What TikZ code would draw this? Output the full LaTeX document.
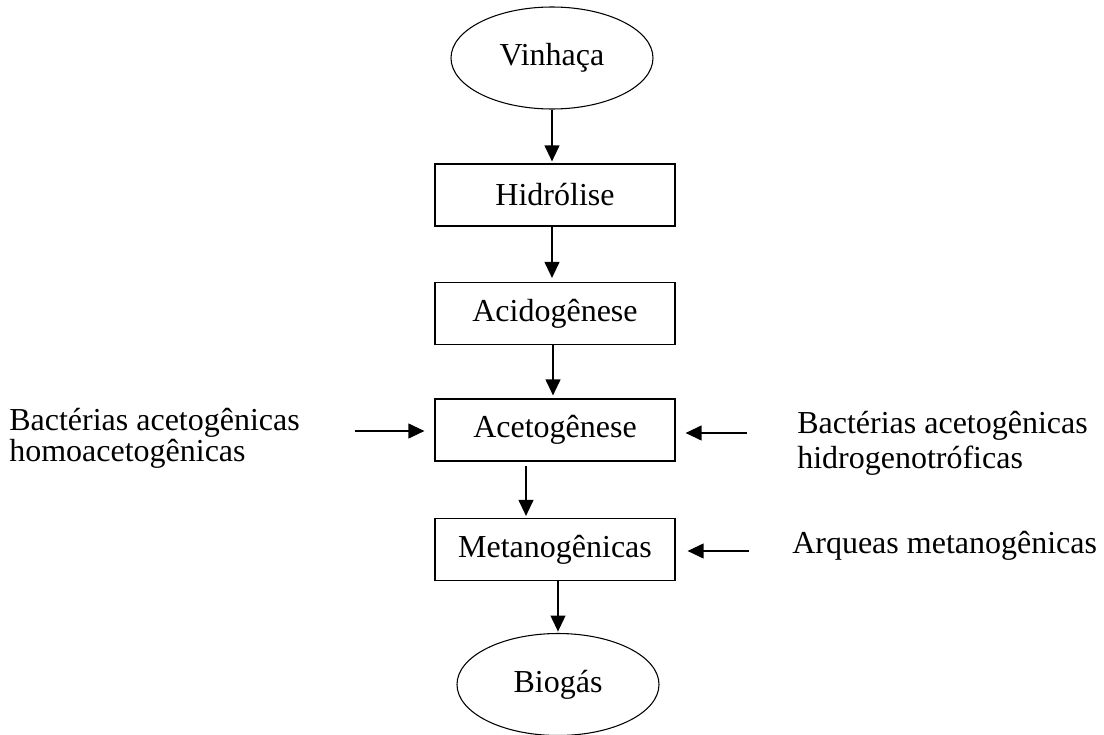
\documentclass[tikz,border=0pt]{standalone}
\usepackage{fontspec}
\setmainfont{Liberation Serif}
\usetikzlibrary{shapes.geometric,arrows.meta}
\begin{document}
\begin{tikzpicture}[x=0.75pt,y=-0.75pt,
  every node/.style={font=\fontsize{24}{21}\selectfont, inner sep=0pt},
  stage/.style={draw, line width=0.8pt, minimum width=180pt, minimum height=46.5pt},
  term/.style={ellipse, draw, line width=0.8pt, minimum width=151.5pt, minimum height=76.5pt},
  arr/.style={line width=1.5pt, -{Triangle[length=12pt,width=11pt]}},
  lbl/.style={align=left, anchor=base west}]
\useasboundingbox (0,0) rectangle (1104,735);
\node[term] (vin) at (552,58) {Vinhaça};
\node[stage] (hid) at (555,195) {Hidrólise};
\node[stage] (acid) at (555,313.5) {Acidogênese};
\node[stage] (acet) at (555,430) {Acetogênese};
\node[stage] (met) at (555,549.5) {Metanogênicas};
\node[term] (bio) at (558,684.5) {Biogás};
\draw[arr, shorten >=1.5pt] (vin.south) -- (vin.south |- hid.north);
\draw[arr, shorten >=3pt] ([xshift=-2.25pt]hid.south) -- ([xshift=-2.25pt]acid.north);
\draw[arr, shorten >=2.25pt] ([xshift=-1.5pt]acid.south) -- ([xshift=-1.5pt]acet.north);
\draw[arr, shorten <=3pt, shorten >=1.5pt] ([xshift=-21.75pt]acet.south) -- ([xshift=-21.75pt]met.north);
\draw[arr, shorten >=1pt] ([xshift=2.25pt]met.south) -- (bio.north);
\coordinate (lt) at (355,431);
\coordinate (rt1) at (747,433);
\coordinate (rt2) at (749,551);
\draw[arr, shorten >=7.5pt] (lt) -- (lt -| acet.west);
\draw[arr, shorten >=7.5pt] (rt1) -- (rt1 -| acet.east);
\draw[arr, shorten >=9pt] (rt2) -- (rt2 -| met.east);
\node[lbl, font=\fontsize{24}{21}\selectfont] (lb) at (9,461) {Bactérias acetogênicas\\homoacetogênicas};
\node[lbl, font=\fontsize{24}{26.25}\selectfont] (rb) at (797,468) {Bactérias acetogênicas\\hidrogenotróficas};
\node[lbl] (ra) at (792,553) {Arqueas metanogênicas};
\end{tikzpicture}
\end{document}
